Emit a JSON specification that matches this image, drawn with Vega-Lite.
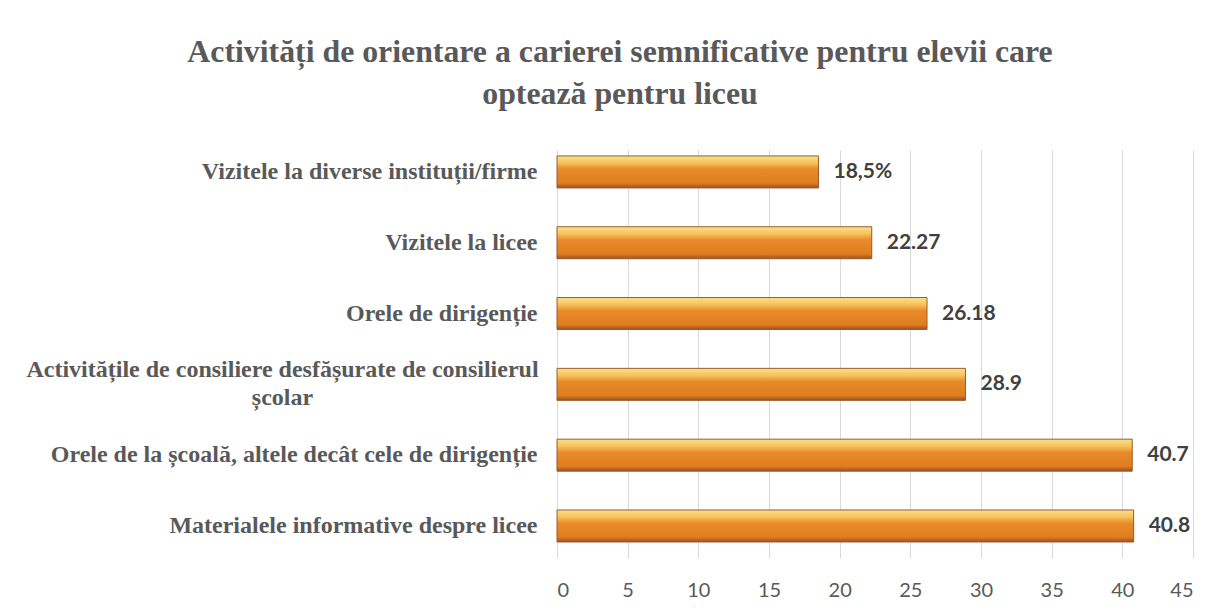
{
  "$schema": "https://vega.github.io/schema/vega-lite/v6.json",
  "width": 636,
  "height": 408,
  "autosize": {"type": "none"},
  "padding": {"left": 557, "top": 150, "right": 32, "bottom": 56},
  "background": "white",
  "title": {
    "text": ["Activități de orientare a carierei semnificative pentru elevii care", "optează pentru liceu"],
    "font": "Liberation Serif",
    "fontSize": 31.8,
    "fontWeight": "bold",
    "color": "#595959",
    "anchor": "middle",
    "dx": -255,
    "lineHeight": 42,
    "offset": 39
  },
  "data": {
    "values": [
      {"activity": "Vizitele la diverse instituții/firme", "value": 18.5, "label": "18,5%"},
      {"activity": "Vizitele la licee", "value": 22.27, "label": "22.27"},
      {"activity": "Orele de dirigenție", "value": 26.18, "label": "26.18"},
      {"activity": "Activitățile de consiliere desfășurate de consilierul|școlar", "value": 28.9, "label": "28.9"},
      {"activity": "Orele de  la școală, altele decât cele de dirigenție", "value": 40.7, "label": "40.7"},
      {"activity": "Materialele informative despre licee", "value": 40.8, "label": "40.8"}
    ]
  },
  "encoding": {
    "y": {
      "field": "activity",
      "type": "nominal",
      "sort": null,
      "scale": {"paddingInner": 0.548, "paddingOuter": 0.155, "align": 0.27},
      "axis": {
        "title": null,
        "domain": false,
        "ticks": false,
        "tickSize": 0,
        "labelExpr": "split(datum.value, '|')",
        "labelFont": "Liberation Serif",
        "labelFontWeight": "bold",
        "labelFontSize": 24,
        "labelColor": "#595959",
        "labelLimit": 600,
        "labelLineHeight": 28,
        "labelAlign": {"condition": {"test": "indexof(datum.value, '|') >= 0", "value": "center"}, "value": "right"},
        "labelPadding": {"condition": {"test": "indexof(datum.value, '|') >= 0", "value": 275}, "value": 20},
        "labelOffset": {"condition": {"test": "indexof(datum.value, '|') >= 0", "value": -14}, "value": 0}
      }
    },
    "x": {
      "field": "value",
      "type": "quantitative",
      "scale": {"domain": [0, 45], "nice": false},
      "axis": {
        "title": null,
        "values": [0, 5, 10, 15, 20, 25, 30, 35, 40, 45],
        "domain": false,
        "grid": true,
        "gridColor": "#d9d9d9",
        "gridWidth": 1,
        "ticks": false,
        "tickSize": 0,
        "labelPadding": 22,
        "labelFont": "Lato",
        "labelFontSize": 20,
        "labelColor": "#595959"
      }
    }
  },
  "layer": [
    {
      "mark": {
        "type": "bar",
        "stroke": "#9a5a2a",
        "strokeWidth": 1,
        "color": {
          "gradient": "linear",
          "x1": 0, "y1": 0, "x2": 0, "y2": 1,
          "stops": [
            {"offset": 0, "color": "#f8e28c"},
            {"offset": 0.22, "color": "#f7c25a"},
            {"offset": 0.42, "color": "#e8892a"},
            {"offset": 0.85, "color": "#df7e1f"},
            {"offset": 1, "color": "#9a4f28"}
          ]
        }
      }
    },
    {
      "mark": {
        "type": "text",
        "align": "left",
        "baseline": "middle",
        "dx": 15,
        "font": "Lato",
        "fontWeight": "bold",
        "fontSize": 21,
        "color": "#404040"
      },
      "encoding": {"text": {"field": "label"}}
    }
  ],
  "config": {"view": {"stroke": null}}
}
